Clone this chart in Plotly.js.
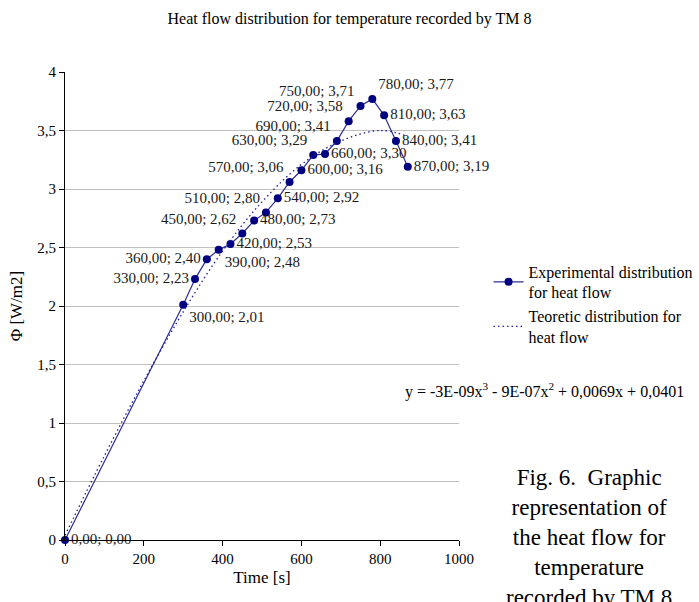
<!DOCTYPE html>
<html>
<head>
<meta charset="utf-8">
<script src="https://cdn.plot.ly/plotly-3.0.1.min.js"></script>
<style>html,body{margin:0;padding:0;background:#fff;}#chart{width:699px;height:602px;}</style>
</head>
<body>
<div id="chart"></div>
<script>
// Experimental data (time [s], heat flow [W/m2])
const timeS = [0, 300, 330, 360, 390, 420, 450, 480, 510, 540, 570, 600, 630, 660, 690, 720, 750, 780, 810, 840, 870];
const flowExp = [0.00, 2.01, 2.23, 2.40, 2.48, 2.53, 2.62, 2.73, 2.80, 2.92, 3.06, 3.16, 3.29, 3.30, 3.41, 3.58, 3.71, 3.77, 3.63, 3.41, 3.19];

// Theoretic (trend) distribution
const timeTheo = [0, 100, 200, 300, 400, 500, 600, 700, 800, 870];
const flowTheo = [0.04, 0.72, 1.36, 1.95, 2.47, 2.89, 3.21, 3.41, 3.50, 3.45];

// Label placement for each experimental point
const labelPos = ['middle right', 'bottom right', 'middle left', 'middle left', 'bottom right', 'middle right',
  'top left', 'middle right', 'top left', 'middle right', 'top left', 'middle right', 'top left', 'middle right',
  'top left', 'top left', 'top left', 'top right', 'middle right', 'middle right', 'middle right'];

const fmt = v => v.toFixed(2).replace('.', ',');
const labels = timeS.map((t, i) => fmt(t) + '; ' + fmt(flowExp[i]));

const serif = "'Liberation Serif', 'Times New Roman', serif";

const traces = [
  {
    x: timeS, y: flowExp, type: 'scatter', mode: 'lines+markers+text',
    name: 'Experimental distribution<br>for heat flow',
    line: {color: '#2e2e96', width: 1.2},
    marker: {color: '#000080', size: 8},
    text: labels, textposition: labelPos,
    textfont: {family: serif, size: 15, color: '#1a1a1a'},
    cliponaxis: false
  },
  {
    x: timeTheo, y: flowTheo, type: 'scatter', mode: 'lines',
    name: 'Teoretic distribution for<br>heat flow',
    line: {color: '#2020a0', width: 1.3, dash: '1.5px,3px', shape: 'spline'},
    cliponaxis: false
  }
];

const layout = {
  width: 699, height: 602,
  margin: {l: 65, r: 240, t: 72, b: 62, autoexpand: false},
  paper_bgcolor: '#fff', plot_bgcolor: '#fff',
  separators: ', ',
  font: {family: serif, size: 14, color: '#000'},
  title: {text: 'Heat flow distribution for temperature recorded by TM 8', x: 0.5, xanchor: 'center', y: 0.97, yanchor: 'middle',
    font: {family: serif, size: 16, color: '#000'}},
  xaxis: {
    range: [0, 1000], tickvals: [0, 200, 400, 600, 800, 1000],
    showgrid: false, zeroline: false, showline: true, linecolor: '#000', linewidth: 1,
    ticks: 'outside', ticklen: 5, tickcolor: '#000',
    tickfont: {family: serif, size: 15, color: '#000'},
    title: {text: 'Time [s]', font: {family: serif, size: 17, color: '#000'}, standoff: 5}
  },
  yaxis: {
    range: [0, 4], tickvals: [0, 0.5, 1, 1.5, 2, 2.5, 3, 3.5, 4],
    showgrid: true, gridcolor: '#c0c0c0', gridwidth: 1, zeroline: false,
    showline: true, linecolor: '#000', linewidth: 1,
    ticks: 'outside', ticklen: 5, tickcolor: '#000',
    tickfont: {family: serif, size: 15, color: '#000'},
    title: {text: 'Φ [W/m2]', font: {family: serif, size: 17, color: '#000'}, standoff: 10}
  },
  legend: {
    x: 1.075, y: 0.61, xanchor: 'left', yanchor: 'top',
    font: {family: serif, size: 16, color: '#000'},
    bgcolor: 'rgba(0,0,0,0)', itemwidth: 30, tracegroupgap: 2
  },
  annotations: [
    {xref: 'paper', yref: 'paper', x: 1.218, y: 0.32, xanchor: 'center', yanchor: 'middle', showarrow: false,
     text: 'y = -3E-09x<sup>3</sup> - 9E-07x<sup>2</sup> + 0,0069x + 0,0401',
     font: {family: serif, size: 16, color: '#000'}},
    {xref: 'paper', yref: 'paper', x: 1.33, y: 0.165, xanchor: 'center', yanchor: 'top', showarrow: false,
     align: 'center',
     text: 'Fig. 6.  Graphic<br>representation of<br>the heat flow for<br>temperature<br>recorded by TM 8',
     font: {family: serif, size: 23, color: '#000'}}
  ]
};

Plotly.newPlot('chart', traces, layout, {displayModeBar: false, staticPlot: true});
</script>
</body>
</html>
